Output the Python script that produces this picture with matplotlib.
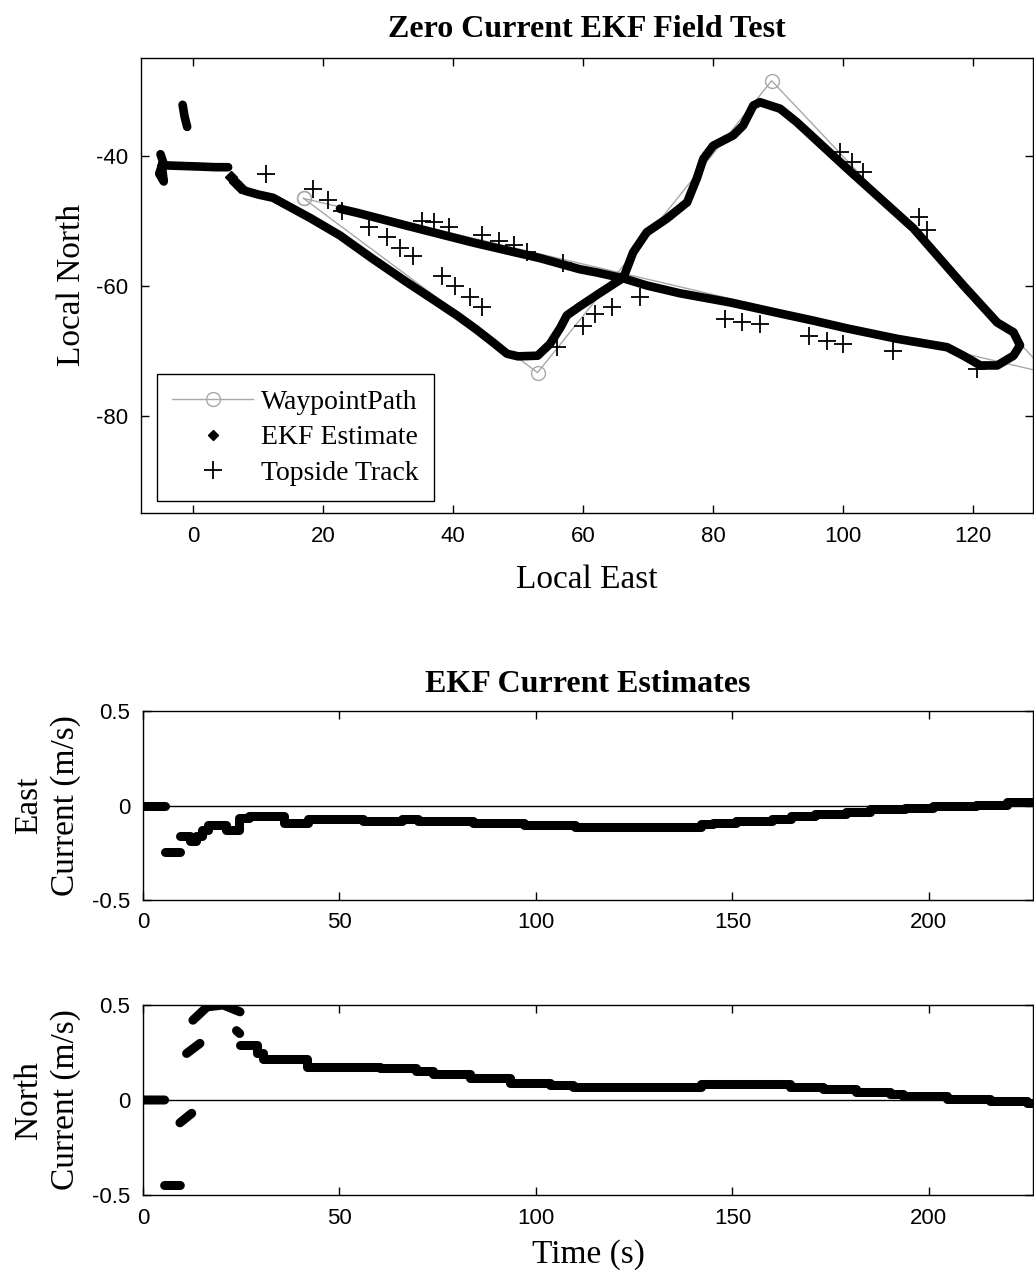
import numpy as np
import matplotlib
matplotlib.use("Agg")
import matplotlib.pyplot as plt
from matplotlib.lines import Line2D

nan = np.nan

# --- top plot: waypoints, EKF trajectory, topside track (local East/North, m) ---
wp_east = [17.0, 53.0, 89.0, 131.5, 17.0]
wp_north = [-46.6, -73.4, -28.5, -73.5, -46.6]

ekf_east = [
    -1.6, -1.3, -0.9, nan,
    -5.0, -4.6, -5.2, -4.5, -4.8, -2.0, 1.0, 3.5, 5.4, nan,
    5.8, nan, 6.5, nan, 7.2, nan,
    7.9, 10.0, 12.3, 14.5, 18.0, 22.6, 27.5, 32.9, 37.0, 40.6, 43.5, 46.2,
    48.3, 50.0, 53.0, 54.9, 56.5, 57.5, 59.5, 62.5, 66.2, 67.7, 69.8, 72.9,
    76.0, 77.5, 78.5, 80.0, 83.1, 84.6, 86.2, 87.2, 90.3, 92.9, 100.6, 110.8,
    118.5, 123.7, 126.2, 127.2, 126.2, 123.7, 121.1, 118.5, 116.0, 108.3,
    100.6, 95.4, 90.3, 82.6, 74.9, 69.8, 66.2, 62.1, 59.5, 53.4, 43.1, 32.9,
    25.2, 22.6,
]
ekf_north = [
    -32.2, -34.0, -35.6, nan,
    -39.8, -41.0, -42.8, -44.0, -41.5, -41.6, -41.7, -41.8, -41.8, nan,
    -43.3, nan, -44.0, nan, -44.8, nan,
    -45.4, -46.0, -46.5, -47.7, -49.6, -52.3, -55.8, -59.5, -62.2, -64.6,
    -66.7, -68.8, -70.5, -70.9, -70.8, -69.0, -66.5, -64.6, -63.2, -61.2,
    -58.8, -54.9, -51.8, -49.7, -47.2, -43.5, -40.5, -38.5, -36.9, -35.4,
    -32.3, -31.8, -32.8, -34.9, -42.0, -51.2, -60.0, -65.7, -67.2, -69.2,
    -70.8, -72.3, -72.3, -70.8, -69.5, -68.2, -66.6, -65.4, -64.3, -62.6,
    -61.2, -60.0, -58.9, -58.0, -57.5, -55.8, -53.4, -50.8, -48.8, -48.2,
]

top_east = [11.3, 18.5, 20.8, 22.9, 27.0, 29.8, 31.8, 33.9, 35.2, 37.0, 39.3,
            38.3, 40.3, 42.6, 44.4, 44.4, 47.0, 49.3, 51.3, 56.0, 60.0, 61.8,
            64.4, 68.8, 56.9, 81.8, 84.4, 87.2, 94.7, 97.5, 100.0, 107.7,
            120.6, 99.5, 101.3, 103.1, 111.6, 112.9]
top_north = [-42.8, -45.1, -46.8, -48.5, -51.0, -52.6, -54.3, -55.4, -50.0,
             -50.3, -51.0, -58.5, -60.0, -61.8, -63.3, -52.3, -53.1, -53.8,
             -54.9, -69.5, -66.2, -64.4, -63.3, -61.8, -56.6, -65.1, -65.6,
             -65.9, -67.7, -68.5, -69.0, -70.0, -72.8, -39.5, -41.0, -42.6,
             -49.5, -51.5]

# --- current estimates (m/s) vs time (s) ---
east_burst_t = [0, 5.5, nan, 5.5, 9.5]
east_burst_v = [0, 0, nan, -0.245, -0.245]
east_t = [9.5, 12, 13.5, 15, 16.5, 21, 24.4, 27, 36, 42, 56, 66, 70, 84, 97,
          110, 142, 145, 151, 160, 165, 171, 179, 185, 194, 201, 212, 220, 227]
east_v = [-0.16, -0.19, -0.16, -0.13, -0.105, -0.13, -0.065, -0.056, -0.09,
          -0.07, -0.083, -0.07, -0.083, -0.095, -0.105, -0.114, -0.1, -0.09,
          -0.083, -0.07, -0.056, -0.047, -0.035, -0.021, -0.012, -0.004,
          0.005, 0.017, 0.017]

north_burst_t = [0, 5.5, nan, 5.5, 9.5, nan, 9.4, 12.4, nan, 11.1, 14.5, nan,
                 12.7, 16.3, 20.4, 24.7, nan, 23.8, 24.6]
north_burst_v = [0, 0, nan, -0.45, -0.45, nan, -0.12, -0.07, nan, 0.245, 0.298,
                 nan, 0.42, 0.49, 0.5, 0.464, nan, 0.365, 0.35]
north_t = [24.7, 29, 30.5, 41.7, 60.3, 69.6, 73.9, 83.2, 93.3, 103.5, 109.4,
           142, 164.6, 173, 181.5, 190, 193.5, 204.5, 215.5, 225, 227]
north_v = [0.287, 0.245, 0.218, 0.176, 0.166, 0.154, 0.136, 0.115, 0.092,
           0.08, 0.069, 0.084, 0.069, 0.057, 0.044, 0.034, 0.021, 0.004,
           -0.005, -0.014, -0.014]

W, H = 1034, 1277
SERIF = "Liberation Serif"
SANS = "Liberation Sans"

plt.rcParams["font.family"] = SERIF
plt.rcParams["axes.unicode_minus"] = False


def style_axes(ax):
    for s in ax.spines.values():
        s.set_linewidth(1.0)
    ax.tick_params(direction="in", top=True, right=True, length=6, width=1,
                   labelsize=16, labelfontfamily=SANS, pad=9)


def px_axes(fig, left, top, right, bottom):
    return fig.add_axes([left / W, 1 - bottom / H, (right - left) / W, (bottom - top) / H])


def isolated_points(values):
    # indices of single points between gaps, drawn as lone diamonds
    idx = []
    for i, v in enumerate(values):
        if np.isnan(v):
            continue
        prev_gap = i == 0 or np.isnan(values[i - 1])
        next_gap = i == len(values) - 1 or np.isnan(values[i + 1])
        if prev_gap and next_gap:
            idx.append(i)
    return idx


def main():
    fig = plt.figure(figsize=(W / 100, H / 100), dpi=100)

    # top: field test track
    ax = px_axes(fig, 141, 58, 1033, 513)
    ax.plot(wp_east, wp_north, color="#a8a8a8", lw=1.0, marker="o", ms=10,
            mfc="none", mec="#a8a8a8", zorder=1)
    ax.plot(ekf_east, ekf_north, color="k", lw=6.2, marker="D", ms=6,
            markevery=isolated_points(ekf_east),
            solid_capstyle="round", solid_joinstyle="round", zorder=2)
    ax.plot(top_east, top_north, ls="none", marker="+", ms=13, mew=1.3,
            color="k", zorder=3)
    ax.set_xlim(-8, 129.2)
    ax.set_ylim(-95, -25)
    ax.set_xticks(range(0, 121, 20))
    ax.set_yticks([-80, -60, -40])
    style_axes(ax)
    ax.set_xlabel("Local East", fontsize=24, labelpad=13)
    ax.set_ylabel("Local North", fontsize=24, labelpad=7)
    ax.set_title("Zero Current EKF Field Test", fontsize=23, fontweight="bold", pad=15)

    handles = [
        Line2D([], [], color="#a8a8a8", lw=1.0, marker="o", ms=10, mfc="none"),
        Line2D([], [], ls="none", color="k", marker="D", ms=5),
        Line2D([], [], ls="none", color="k", marker="+", ms=13, mew=1.3),
    ]
    leg = ax.legend(handles, ["WaypointPath", "EKF Estimate", "Topside Track"],
                    loc="lower left", bbox_to_anchor=(0.018, 0.026),
                    borderaxespad=0, fontsize=20, handlelength=2.9,
                    handletextpad=0.3, borderpad=0.55, labelspacing=0.36,
                    fancybox=False, framealpha=1, edgecolor="k")
    leg.get_frame().set_linewidth(1.0)

    # east current
    ax2 = px_axes(fig, 143, 711, 1033, 900)
    ax2.axhline(0, color="k", lw=1.0, zorder=1)
    ax2.plot(east_burst_t, east_burst_v, color="k", lw=6.5, solid_capstyle="round")
    ax2.plot(east_t, east_v, color="k", lw=6.5, drawstyle="steps-post",
             solid_capstyle="round")
    ax2.set_xlim(0, 226.5)
    ax2.set_ylim(-0.5, 0.5)
    ax2.set_xticks(range(0, 201, 50))
    ax2.set_yticks([-0.5, 0, 0.5])
    ax2.set_yticklabels(["-0.5", "0", "0.5"])
    style_axes(ax2)
    ax2.set_ylabel("East\nCurrent (m/s)", fontsize=24, labelpad=8, linespacing=1.25)
    ax2.set_title("EKF Current Estimates", fontsize=23, fontweight="bold", pad=14)

    # north current
    ax3 = px_axes(fig, 143, 1005, 1033, 1195)
    ax3.axhline(0, color="k", lw=1.0, zorder=1)
    ax3.plot(north_burst_t, north_burst_v, color="k", lw=6.5, solid_capstyle="round")
    ax3.plot(north_t, north_v, color="k", lw=6.5, drawstyle="steps-post",
             solid_capstyle="round")
    ax3.set_xlim(0, 226.5)
    ax3.set_ylim(-0.5, 0.5)
    ax3.set_xticks(range(0, 201, 50))
    ax3.set_yticks([-0.5, 0, 0.5])
    ax3.set_yticklabels(["-0.5", "0", "0.5"])
    style_axes(ax3)
    ax3.set_ylabel("North\nCurrent (m/s)", fontsize=24, labelpad=8, linespacing=1.25)
    ax3.set_xlabel("Time (s)", fontsize=24, labelpad=8)

    fig.savefig("out.png", dpi=100)
    plt.close(fig)


if __name__ == "__main__":
    main()
